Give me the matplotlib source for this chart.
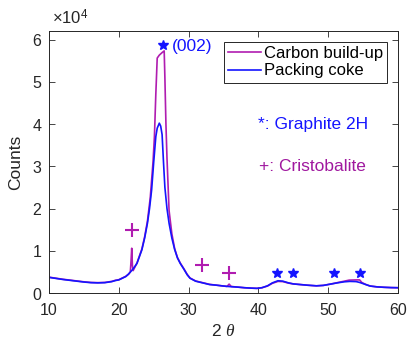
import matplotlib
matplotlib.use("Agg")
import matplotlib.pyplot as plt
from matplotlib.ticker import ScalarFormatter

# =========================================================
# DADOS - XRD: carbon build-up vs packing coke
# =========================================================

TWO_THETA_COKE = [
    10, 11, 12, 13, 14, 15, 16, 17, 18, 19, 19.5, 20, 21, 21.4, 22, 22.6,
    23.3, 23.7, 24.1, 24.4, 24.7, 25.0, 25.3, 25.5, 25.8, 26.0, 26.2, 26.4,
    26.6, 26.9, 27.2, 27.6, 28.0, 28.4, 28.8, 29.3, 29.8, 30.2, 31, 32, 33,
    34, 35, 36, 37, 38, 39, 39.8, 40.5, 41.3, 42, 42.8, 43.5, 44.3, 45, 46,
    47, 48.3, 49.3, 50.3, 51.3, 52.3, 53.1, 54, 54.5, 55.2, 56, 57, 58, 59, 60,
]
COUNTS_COKE = [
    3700, 3450, 3200, 3000, 2800, 2600, 2450, 2400, 2450, 2700, 2950, 3100,
    3900, 4500, 5600, 7000, 10200, 13000, 16500, 20000, 24400, 31000, 37000,
    39000, 40200, 39500, 37500, 31000, 25000, 20000, 16500, 13000, 10300, 8300,
    7000, 5700, 4300, 3500, 2800, 2400, 2000, 1850, 1650, 1500, 1400, 1250,
    1150, 1100, 1250, 1700, 2400, 2900, 2800, 2400, 2150, 2000, 1850, 1700,
    1800, 2100, 2400, 2650, 2750, 2700, 2500, 2100, 1650, 1450, 1350, 1280, 1250,
]

TWO_THETA_BUILDUP = [
    10, 11, 12, 13, 14, 15, 16, 17, 18, 19, 19.5, 20, 21, 21.4, 21.65, 21.75,
    21.85, 21.95, 22.05, 22.6, 23.3, 23.7, 24.1, 24.5, 24.9, 25.1, 25.3, 25.5,
    25.8, 26.2, 26.5, 26.6, 26.75, 26.9, 27.2, 27.6, 28.0, 28.4, 28.8, 29.3,
    29.8, 30.2, 31, 32, 33, 34, 35, 35.5, 35.8, 36.1, 37, 38, 39, 39.8, 40.5,
    41.3, 42, 42.8, 43.5, 44.3, 45, 46, 47, 48.3, 49.3, 50.3, 51.3, 52.3,
    53.0, 54.0, 54.5, 54.8, 55.4, 56, 57, 58, 59, 60,
]
COUNTS_BUILDUP = [
    3750, 3500, 3250, 3050, 2850, 2650, 2500, 2450, 2500, 2750, 3000, 3150,
    3950, 4450, 5000, 7500, 10600, 6500, 5300, 7100, 10400, 13300, 17000,
    22500, 31000, 37000, 47000, 55600, 56300, 56900, 57300, 51000, 40000,
    32000, 19500, 14000, 10500, 8400, 7100, 5800, 4400, 3550, 2850, 2450,
    2050, 1850, 1650, 1550, 2100, 1550, 1400, 1250, 1150, 1100, 1250, 1650,
    2300, 2750, 2700, 2350, 2150, 2000, 1850, 1700, 1800, 2100, 2450, 2800,
    3050, 3100, 3100, 2500, 2000, 1650, 1450, 1350, 1280, 1250,
]

GRAPHITE_STARS_X = [26.3, 42.6, 44.9, 50.8, 54.55]
GRAPHITE_STARS_Y = [58800, 4800, 4800, 4800, 4800]
CRISTOBALITE_X = [21.9, 31.9, 35.8]
CRISTOBALITE_Y = [14900, 6600, 4700]

MAGENTA = "#B01CB0"
MAGENTA_TXT = "#A0189F"
BLUE = "#1414FF"
AX_COLOR = "#262626"

plt.rcParams["font.family"] = ["Liberation Sans", "DejaVu Sans"]
plt.rcParams["mathtext.fontset"] = "custom"
plt.rcParams["mathtext.rm"] = "Liberation Sans"
plt.rcParams["mathtext.it"] = "Liberation Serif:italic"


def build_plot():
    fig = plt.figure(figsize=(4.07, 3.45), dpi=100)
    ax = fig.add_axes([0.1204, 0.1507, 0.8576, 0.7593])

    ax.plot(TWO_THETA_BUILDUP, COUNTS_BUILDUP, color=MAGENTA, lw=1.2,
            label="Carbon build-up")
    ax.plot(TWO_THETA_COKE, COUNTS_COKE, color=BLUE, lw=1.2,
            label="Packing coke")

    ax.plot(GRAPHITE_STARS_X, GRAPHITE_STARS_Y, ls="none", marker="*",
            ms=7, color=BLUE)
    ax.plot(CRISTOBALITE_X, CRISTOBALITE_Y, ls="none", marker="+",
            ms=10, mew=1.5, color=MAGENTA)

    ax.text(27.6, 58300, "(002)", color=BLUE, fontsize=12.5, va="center")
    ax.text(39.9, 39800, "*: Graphite 2H", color=BLUE, fontsize=12.5,
            va="center")
    ax.text(40.1, 29900, "+: Cristobalite", color=MAGENTA_TXT, fontsize=12.5,
            va="center")

    ax.set_xlim(10, 60)
    ax.set_ylim(0, 62000)
    ax.set_xticks([10, 20, 30, 40, 50, 60])
    ax.set_yticks([0, 10000, 20000, 30000, 40000, 50000, 60000])

    fmt = ScalarFormatter(useMathText=True)
    fmt.set_powerlimits((4, 4))
    ax.yaxis.set_major_formatter(fmt)

    ax.tick_params(direction="in", length=4, width=0.6, top=True, right=True,
                   labelsize=11.5, colors=AX_COLOR)
    ax.tick_params(axis="x", pad=7)
    ax.tick_params(axis="y", pad=5)
    ax.yaxis.get_offset_text().set_visible(False)
    ax.text(0.01, 1.015, "$\\times$10$^{4}$", transform=ax.transAxes,
            fontsize=12, color=AX_COLOR, ha="left", va="bottom")

    for sp in ax.spines.values():
        sp.set_color(AX_COLOR)
        sp.set_linewidth(0.7)

    ax.set_xlabel("2 $\\it{\\theta}$", fontsize=12.5, color=AX_COLOR,
                  labelpad=4)
    ax.set_ylabel("Counts", fontsize=12.5, color=AX_COLOR, labelpad=6)

    leg = ax.legend(loc="upper right", bbox_to_anchor=(0.968, 0.959),
                    borderaxespad=0, fontsize=12, handlelength=2.0,
                    handletextpad=0.15, labelspacing=0.15, borderpad=0.25,
                    fancybox=False, framealpha=1)
    leg.get_frame().set_edgecolor(AX_COLOR)
    leg.get_frame().set_linewidth(0.7)

    fig.savefig("out.png", dpi=100)
    plt.close(fig)


if __name__ == "__main__":
    build_plot()
